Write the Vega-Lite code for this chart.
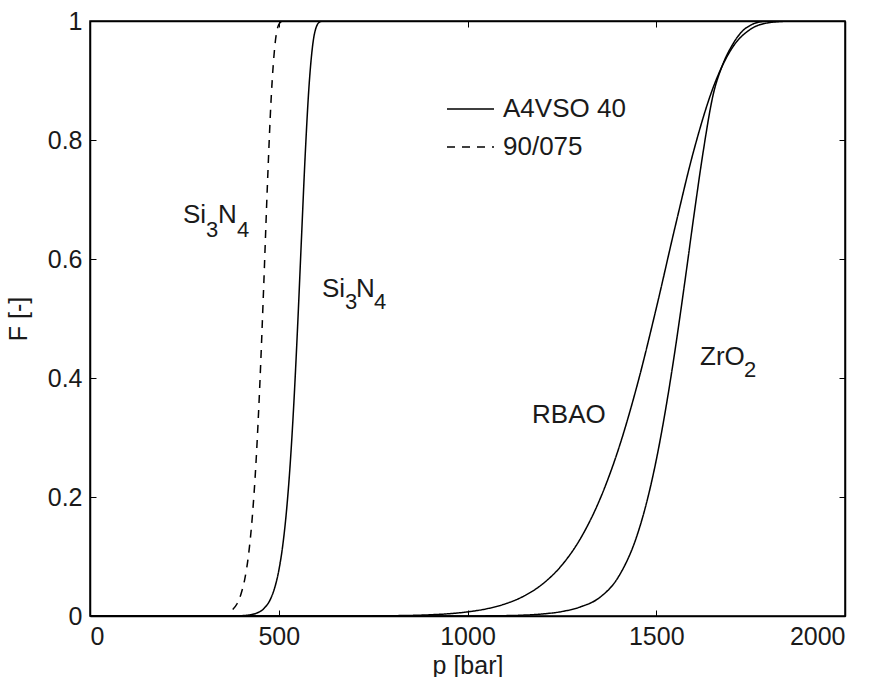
{
  "$schema": "https://vega.github.io/schema/vega-lite/v6.json",
  "width": 755,
  "height": 595,
  "autosize": {"type": "none"},
  "padding": {"left": 90, "top": 21, "right": 32, "bottom": 61},
  "background": "white",
  "config": {
    "font": "Liberation Sans",
    "view": {"stroke": "black", "strokeWidth": 1.5},
    "axis": {
      "domainColor": "black",
      "domainWidth": 1.5,
      "tickColor": "black",
      "tickWidth": 1,
      "tickSize": -6,
      "grid": false,
      "labelFont": "Liberation Sans",
      "labelFontSize": 25,
      "labelColor": "#1a1a1a",
      "titleFont": "Liberation Sans",
      "titleFontSize": 25,
      "titleFontWeight": "normal",
      "titleColor": "#1a1a1a"
    },
    "legend": {
      "orient": "none",
      "legendX": 356,
      "legendY": 63.5,
      "padding": 0,
      "symbolType": "stroke",
      "symbolSize": 2209,
      "symbolStrokeColor": "black",
      "symbolStrokeWidth": 1.5,
      "labelFont": "Liberation Sans",
      "labelFontSize": 26,
      "labelColor": "#1a1a1a",
      "labelOffset": 8,
      "rowPadding": -10
    }
  },
  "datasets": {
    "curves": [
      {"curve": "Si3N4 90/075", "grade": "90/075", "p": 378, "F": 0.011},
      {"curve": "Si3N4 90/075", "grade": "90/075", "p": 390, "F": 0.021},
      {"curve": "Si3N4 90/075", "grade": "90/075", "p": 400, "F": 0.037},
      {"curve": "Si3N4 90/075", "grade": "90/075", "p": 410, "F": 0.062},
      {"curve": "Si3N4 90/075", "grade": "90/075", "p": 420, "F": 0.103},
      {"curve": "Si3N4 90/075", "grade": "90/075", "p": 430, "F": 0.167},
      {"curve": "Si3N4 90/075", "grade": "90/075", "p": 440, "F": 0.261},
      {"curve": "Si3N4 90/075", "grade": "90/075", "p": 450, "F": 0.391},
      {"curve": "Si3N4 90/075", "grade": "90/075", "p": 460, "F": 0.552},
      {"curve": "Si3N4 90/075", "grade": "90/075", "p": 470, "F": 0.725},
      {"curve": "Si3N4 90/075", "grade": "90/075", "p": 480, "F": 0.871},
      {"curve": "Si3N4 90/075", "grade": "90/075", "p": 490, "F": 0.96},
      {"curve": "Si3N4 90/075", "grade": "90/075", "p": 500, "F": 0.994},
      {"curve": "Si3N4 90/075", "grade": "90/075", "p": 510, "F": 1.0},

      {"curve": "Si3N4 A4VSO 40", "grade": "A4VSO 40", "p": 0, "F": 0},
      {"curve": "Si3N4 A4VSO 40", "grade": "A4VSO 40", "p": 380, "F": 0.0001},
      {"curve": "Si3N4 A4VSO 40", "grade": "A4VSO 40", "p": 400, "F": 0.0005},
      {"curve": "Si3N4 A4VSO 40", "grade": "A4VSO 40", "p": 420, "F": 0.0016},
      {"curve": "Si3N4 A4VSO 40", "grade": "A4VSO 40", "p": 440, "F": 0.0045},
      {"curve": "Si3N4 A4VSO 40", "grade": "A4VSO 40", "p": 460, "F": 0.0121},
      {"curve": "Si3N4 A4VSO 40", "grade": "A4VSO 40", "p": 480, "F": 0.0311},
      {"curve": "Si3N4 A4VSO 40", "grade": "A4VSO 40", "p": 490, "F": 0.049},
      {"curve": "Si3N4 A4VSO 40", "grade": "A4VSO 40", "p": 500, "F": 0.076},
      {"curve": "Si3N4 A4VSO 40", "grade": "A4VSO 40", "p": 510, "F": 0.1158},
      {"curve": "Si3N4 A4VSO 40", "grade": "A4VSO 40", "p": 520, "F": 0.1731},
      {"curve": "Si3N4 A4VSO 40", "grade": "A4VSO 40", "p": 530, "F": 0.2526},
      {"curve": "Si3N4 A4VSO 40", "grade": "A4VSO 40", "p": 540, "F": 0.3578},
      {"curve": "Si3N4 A4VSO 40", "grade": "A4VSO 40", "p": 550, "F": 0.4872},
      {"curve": "Si3N4 A4VSO 40", "grade": "A4VSO 40", "p": 560, "F": 0.6321},
      {"curve": "Si3N4 A4VSO 40", "grade": "A4VSO 40", "p": 570, "F": 0.7739},
      {"curve": "Si3N4 A4VSO 40", "grade": "A4VSO 40", "p": 580, "F": 0.8886},
      {"curve": "Si3N4 A4VSO 40", "grade": "A4VSO 40", "p": 590, "F": 0.96},
      {"curve": "Si3N4 A4VSO 40", "grade": "A4VSO 40", "p": 600, "F": 0.9908},
      {"curve": "Si3N4 A4VSO 40", "grade": "A4VSO 40", "p": 610, "F": 0.9989},
      {"curve": "Si3N4 A4VSO 40", "grade": "A4VSO 40", "p": 620, "F": 1.0},
      {"curve": "Si3N4 A4VSO 40", "grade": "A4VSO 40", "p": 2000, "F": 1.0},

      {"curve": "RBAO A4VSO 40", "grade": "A4VSO 40", "p": 0, "F": 0},
      {"curve": "RBAO A4VSO 40", "grade": "A4VSO 40", "p": 600, "F": 0.00002},
      {"curve": "RBAO A4VSO 40", "grade": "A4VSO 40", "p": 700, "F": 0.0001},
      {"curve": "RBAO A4VSO 40", "grade": "A4VSO 40", "p": 800, "F": 0.0005},
      {"curve": "RBAO A4VSO 40", "grade": "A4VSO 40", "p": 900, "F": 0.002},
      {"curve": "RBAO A4VSO 40", "grade": "A4VSO 40", "p": 950, "F": 0.0038},
      {"curve": "RBAO A4VSO 40", "grade": "A4VSO 40", "p": 1000, "F": 0.0069},
      {"curve": "RBAO A4VSO 40", "grade": "A4VSO 40", "p": 1050, "F": 0.012},
      {"curve": "RBAO A4VSO 40", "grade": "A4VSO 40", "p": 1100, "F": 0.0204},
      {"curve": "RBAO A4VSO 40", "grade": "A4VSO 40", "p": 1150, "F": 0.0337},
      {"curve": "RBAO A4VSO 40", "grade": "A4VSO 40", "p": 1200, "F": 0.0544},
      {"curve": "RBAO A4VSO 40", "grade": "A4VSO 40", "p": 1250, "F": 0.0855},
      {"curve": "RBAO A4VSO 40", "grade": "A4VSO 40", "p": 1300, "F": 0.131},
      {"curve": "RBAO A4VSO 40", "grade": "A4VSO 40", "p": 1350, "F": 0.195},
      {"curve": "RBAO A4VSO 40", "grade": "A4VSO 40", "p": 1400, "F": 0.2806},
      {"curve": "RBAO A4VSO 40", "grade": "A4VSO 40", "p": 1450, "F": 0.3892},
      {"curve": "RBAO A4VSO 40", "grade": "A4VSO 40", "p": 1500, "F": 0.5171},
      {"curve": "RBAO A4VSO 40", "grade": "A4VSO 40", "p": 1550, "F": 0.6541},
      {"curve": "RBAO A4VSO 40", "grade": "A4VSO 40", "p": 1600, "F": 0.7836},
      {"curve": "RBAO A4VSO 40", "grade": "A4VSO 40", "p": 1650, "F": 0.8868},
      {"curve": "RBAO A4VSO 40", "grade": "A4VSO 40", "p": 1700, "F": 0.9537},
      {"curve": "RBAO A4VSO 40", "grade": "A4VSO 40", "p": 1750, "F": 0.9863},
      {"curve": "RBAO A4VSO 40", "grade": "A4VSO 40", "p": 1800, "F": 0.9973},
      {"curve": "RBAO A4VSO 40", "grade": "A4VSO 40", "p": 1850, "F": 0.9997},
      {"curve": "RBAO A4VSO 40", "grade": "A4VSO 40", "p": 1900, "F": 1.0},
      {"curve": "RBAO A4VSO 40", "grade": "A4VSO 40", "p": 2000, "F": 1.0},

      {"curve": "ZrO2 A4VSO 40", "grade": "A4VSO 40", "p": 0, "F": 0},
      {"curve": "ZrO2 A4VSO 40", "grade": "A4VSO 40", "p": 1000, "F": 0.0001},
      {"curve": "ZrO2 A4VSO 40", "grade": "A4VSO 40", "p": 1100, "F": 0.0006},
      {"curve": "ZrO2 A4VSO 40", "grade": "A4VSO 40", "p": 1150, "F": 0.0015},
      {"curve": "ZrO2 A4VSO 40", "grade": "A4VSO 40", "p": 1200, "F": 0.0035},
      {"curve": "ZrO2 A4VSO 40", "grade": "A4VSO 40", "p": 1250, "F": 0.0075},
      {"curve": "ZrO2 A4VSO 40", "grade": "A4VSO 40", "p": 1300, "F": 0.0155},
      {"curve": "ZrO2 A4VSO 40", "grade": "A4VSO 40", "p": 1350, "F": 0.031},
      {"curve": "ZrO2 A4VSO 40", "grade": "A4VSO 40", "p": 1400, "F": 0.066},
      {"curve": "ZrO2 A4VSO 40", "grade": "A4VSO 40", "p": 1450, "F": 0.137},
      {"curve": "ZrO2 A4VSO 40", "grade": "A4VSO 40", "p": 1475, "F": 0.192},
      {"curve": "ZrO2 A4VSO 40", "grade": "A4VSO 40", "p": 1500, "F": 0.262},
      {"curve": "ZrO2 A4VSO 40", "grade": "A4VSO 40", "p": 1525, "F": 0.348},
      {"curve": "ZrO2 A4VSO 40", "grade": "A4VSO 40", "p": 1550, "F": 0.4476},
      {"curve": "ZrO2 A4VSO 40", "grade": "A4VSO 40", "p": 1575, "F": 0.5583},
      {"curve": "ZrO2 A4VSO 40", "grade": "A4VSO 40", "p": 1600, "F": 0.674},
      {"curve": "ZrO2 A4VSO 40", "grade": "A4VSO 40", "p": 1625, "F": 0.7831},
      {"curve": "ZrO2 A4VSO 40", "grade": "A4VSO 40", "p": 1650, "F": 0.874},
      {"curve": "ZrO2 A4VSO 40", "grade": "A4VSO 40", "p": 1675, "F": 0.925},
      {"curve": "ZrO2 A4VSO 40", "grade": "A4VSO 40", "p": 1700, "F": 0.958},
      {"curve": "ZrO2 A4VSO 40", "grade": "A4VSO 40", "p": 1725, "F": 0.981},
      {"curve": "ZrO2 A4VSO 40", "grade": "A4VSO 40", "p": 1750, "F": 0.993},
      {"curve": "ZrO2 A4VSO 40", "grade": "A4VSO 40", "p": 1775, "F": 0.9985},
      {"curve": "ZrO2 A4VSO 40", "grade": "A4VSO 40", "p": 1800, "F": 1.0},
      {"curve": "ZrO2 A4VSO 40", "grade": "A4VSO 40", "p": 2000, "F": 1.0}
    ],
    "labels": [
      {"t": "Si", "sub": false, "p": 246.4, "F": 0.6605},
      {"t": "3", "sub": true, "p": 307.3, "F": 0.637},
      {"t": "N", "sub": false, "p": 339.1, "F": 0.6605},
      {"t": "4", "sub": true, "p": 389.4, "F": 0.637},
      {"t": "Si", "sub": false, "p": 614.6, "F": 0.536},
      {"t": "3", "sub": true, "p": 675.5, "F": 0.516},
      {"t": "N", "sub": false, "p": 704.6, "F": 0.536},
      {"t": "4", "sub": true, "p": 752.3, "F": 0.516},
      {"t": "RBAO", "sub": false, "p": 1170.9, "F": 0.3244},
      {"t": "ZrO", "sub": false, "p": 1615.9, "F": 0.4218},
      {"t": "2", "sub": true, "p": 1732.5, "F": 0.4017}
    ]
  },
  "layer": [
    {
      "data": {"name": "curves"},
      "mark": {"type": "line", "color": "black", "strokeWidth": 1.5, "interpolate": "monotone", "clip": true},
      "encoding": {
        "x": {
          "field": "p", "type": "quantitative",
          "scale": {"domain": [0, 2000], "nice": false},
          "axis": {"orient": "bottom", "values": [0, 500, 1000, 1500, 2000], "format": "d", "title": "p [bar]", "labelPadding": 14, "titlePadding": 4}
        },
        "y": {
          "field": "F", "type": "quantitative",
          "scale": {"domain": [0, 1], "nice": false},
          "axis": {"orient": "left", "values": [0, 0.2, 0.4, 0.6, 0.8, 1], "format": "~g", "title": "F [-]", "labelPadding": 14, "titlePadding": 16}
        },
        "detail": {"field": "curve", "type": "nominal"},
        "strokeDash": {
          "field": "grade", "type": "nominal",
          "scale": {"domain": ["A4VSO 40", "90/075"], "range": [[1, 0], [8, 7]]},
          "legend": {"title": null}
        }
      }
    },
    {
      "data": {"name": "labels"},
      "transform": [{"filter": "!datum.sub"}],
      "mark": {"type": "text", "align": "left", "baseline": "alphabetic", "fontSize": 26, "color": "#1a1a1a", "font": "Liberation Sans"},
      "encoding": {
        "x": {"field": "p", "type": "quantitative", "axis": {"orient": "top", "values": [0, 500, 1000, 1500, 2000], "labels": false, "title": null}},
        "y": {"field": "F", "type": "quantitative", "axis": {"orient": "right", "values": [0, 0.2, 0.4, 0.6, 0.8, 1], "labels": false, "title": null}},
        "text": {"field": "t"}
      }
    },
    {
      "data": {"name": "labels"},
      "transform": [{"filter": "datum.sub"}],
      "mark": {"type": "text", "align": "left", "baseline": "alphabetic", "fontSize": 22, "color": "#1a1a1a", "font": "Liberation Sans"},
      "encoding": {
        "x": {"field": "p", "type": "quantitative", "axis": null},
        "y": {"field": "F", "type": "quantitative", "axis": null},
        "text": {"field": "t"}
      }
    }
  ],
  "resolve": {"axis": {"x": "independent", "y": "independent"}}
}
